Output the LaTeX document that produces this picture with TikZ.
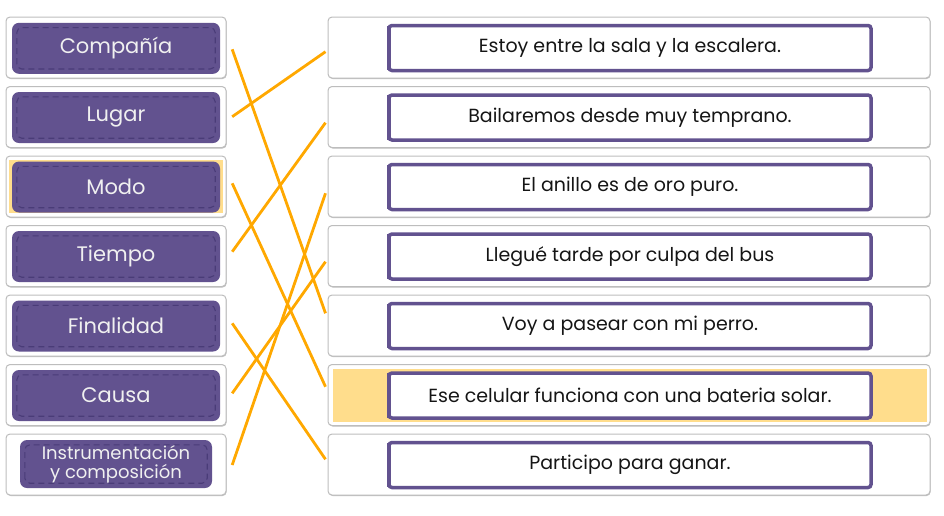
\documentclass[tikz,border=0pt]{standalone}
\usepackage{fontspec}
\setmainfont{Poppins}
\usetikzlibrary{calc,shadows}
\definecolor{purp}{HTML}{62528F}
\definecolor{dpurp}{HTML}{4A3C78}
\definecolor{bord}{HTML}{BDBDBD}
\definecolor{hl}{HTML}{FFDD8C}
\definecolor{org}{HTML}{FFA800}
\definecolor{ink}{HTML}{151515}
\begin{document}
\begin{tikzpicture}[x=1pt,y=-1pt,
  outerbox/.style={draw=bord, line width=1pt, fill=white, rounded corners=4pt,
    minimum height=61pt, inner sep=0pt,
    drop shadow={shadow xshift=0.6pt, shadow yshift=-1pt, opacity=0.25, fill=black}},
  tagbox/.style={fill=purp, text=white!94!black, rounded corners=7pt, inner sep=0pt,
    minimum width=208pt, minimum height=51pt, font=\fontsize{21}{22}\selectfont},
  tagdash/.style={draw=dpurp, line width=1.1pt, dash pattern=on 6pt off 4pt, rounded corners=5pt},
  sentbox/.style={draw=purp, line width=3.5pt, fill=white, rounded corners=3pt, inner sep=0pt,
    minimum width=482pt, minimum height=45pt, text=ink, font=\fontsize{19}{20}\selectfont},
  conn/.style={draw=org, line width=2.8pt}
]
\useasboundingbox (0,0) rectangle (944,515);

% left column
\foreach \i/\y in {1/47.5,2/117,3/186.5,4/256,5/325.5,6/395,7/464.5}{
  \node[outerbox, minimum width=220pt] (L\i) at (116,\y) {};
}
\fill[hl] (9,160) rectangle (223,213);
\node[tagbox] (T1) at (116,48.3) {Compañía};
\node[tagbox] (T2) at (116,117.5) {Lugar};
\node[tagbox] (T3) at (116,187) {Modo};
\node[tagbox] (T4) at (116,256.5) {Tiempo};
\node[tagbox] (T5) at (116,326) {Finalidad};
\node[tagbox] (T6) at (116,395.5) {Causa};
\node[tagbox, minimum width=192pt, minimum height=48pt, align=center,
  font=\fontsize{18}{19}\selectfont] (T7) at (116,464) {Instrumentación\\y composición};
\foreach \i in {1,...,7}{
  \draw[tagdash] ($(T\i.south west)+(5,-5)$) rectangle ($(T\i.north east)+(-5,5)$);
}

% right column
\foreach \i/\y in {1/47.5,2/117,3/186.5,4/256,5/325.5,6/395,7/464.5}{
  \node[outerbox, minimum width=602pt] (R\i) at (629,\y) {};
}
\fill[hl] (333,368.5) rectangle (927,422);
\node[sentbox] (S1) at (630,48) {Estoy entre la sala y la escalera.};
\node[sentbox] (S2) at (630,117.5) {Bailaremos desde muy temprano.};
\node[sentbox] (S3) at (630,187) {El anillo es de oro puro.};
\node[sentbox] (S4) at (630,256.5) {Llegué tarde por culpa del bus};
\node[sentbox] (S5) at (630,326) {Voy a pasear con mi perro.};
\node[sentbox] (S6) at (630,395.5) {Ese celular funciona con una bateria solar.};
\node[sentbox] (S7) at (630,465) {Participo para ganar.};
\foreach \i in {1,...,7}{
  \draw[purp, line width=3pt] ($(S\i.north west)+(1.5,2)$) -- ($(S\i.south west)+(1.5,-2)$);
}

% connectors
\draw[conn] ($(L1.east)+(5.7,1.8)$)  -- ($(R5.west)+(-2,-12.2)$);
\draw[conn] ($(L2.east)+(5.7,-0.3)$) -- ($(R1.west)+(-2,4.2)$);
\draw[conn] ($(L3.east)+(5.7,-3.2)$) -- ($(R6.west)+(-2,-8.3)$);
\draw[conn] ($(L4.east)+(5.7,-4.3)$) -- ($(R2.west)+(-2,5.7)$);
\draw[conn] ($(L5.east)+(5.7,-2.2)$) -- ($(R7.west)+(-2,-5.2)$);
\draw[conn] ($(L6.east)+(5.7,-1.7)$) -- ($(R4.west)+(-2,5.7)$);
\draw[conn] ($(L7.east)+(5.7,0.5)$)  -- ($(R3.west)+(-2,6.8)$);
\end{tikzpicture}
\end{document}
